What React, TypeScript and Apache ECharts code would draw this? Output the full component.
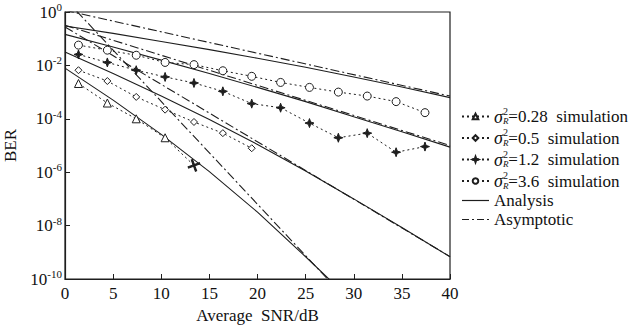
import React, { useEffect, useRef } from "react";
import * as echarts from "echarts";

const FONT = "Liberation Serif";

// SNR positions of simulation points (dB)
const xSim = [1.4, 4.4, 7.4, 10.4, 13.4, 16.4, 19.4, 22.4, 25.4, 28.4, 31.4, 34.4, 37.4];
// simulation BER
const sim028 = [2.1e-3, 3.9e-4, 1.0e-4, 1.95e-5, 1.8e-6];
const sim05 = [6.6e-3, 2.6e-3, 6.6e-4, 2.2e-4, 7.6e-5, 2.9e-5, 7.9e-6];
const sim12 = [2.57e-2, 1.29e-2, 6.6e-3, 3.7e-3, 2.2e-3, 1.07e-3, 3.7e-4, 2.6e-4, 6.9e-5, 1.95e-5, 2.9e-5, 5.6e-6, 9.1e-6];
const sim36 = [5.75e-2, 3.72e-2, 2.4e-2, 1.29e-2, 1.07e-2, 6.3e-3, 3.9e-3, 2.3e-3, 1.5e-3, 1.0e-3, 7.1e-4, 4.4e-4, 1.7e-4];

// analysis curves
const xAna = [0, 5, 10, 15, 20, 25, 30, 35, 40];
const ana36 = [0.30, 0.158, 0.079, 0.039, 0.0186, 8.5e-3, 3.7e-3, 1.55e-3, 6.2e-4];
const ana12 = [0.145, 0.049, 0.0158, 5.0e-3, 1.5e-3, 4.4e-4, 1.2e-4, 3.3e-5, 8.7e-6];
const ana05 = [0.032, 5.0e-3, 7.2e-4, 9.5e-5, 1.1e-5, 1.1e-6, 1.0e-7, 8.5e-9, 6.8e-10];
const ana028 = [7.9e-3, 5.0e-4, 2.6e-5, 1.05e-6, 3.2e-8, 6.8e-10, 1.3e-11];

// asymptotic lines (end points)
const xAsy = [0, 40];
const asy36 = [1.15, 7.1e-4];
const asy12 = [0.32, 1.0e-5];
const asy05 = [0.275, 6.9e-10];
const xAsyD = [0, 30];
const asy028 = [3.16, 8.9e-12];

// axis ticks
const xTicks = { min: 0, max: 40, interval: 5 };
const yTicks = { min: 1e-10, max: 1 };

const legendNames = ["s028", "s05", "s12", "s36", "Analysis", "Asymptotic"];
const legendValues: Record<string, string> = { s028: "0.28", s05: "0.5", s12: "1.2", s36: "3.6" };

const zip = (xs: number[], ys: number[]) => ys.map((y, i) => [xs[i], y]);

const INK = "#1e1e1e";
const STAR = "path://M0,-5 L1.3,-1.3 L5,0 L1.3,1.3 L0,5 L-1.3,1.3 L-5,0 L-1.3,-1.3 Z";
const PLUS = "path://M-0.7,-6 L0.7,-6 L0.7,-0.7 L6,-0.7 L6,0.7 L0.7,0.7 L0.7,6 L-0.7,6 L-0.7,0.7 L-6,0.7 L-6,-0.7 L-0.7,-0.7 Z";
const ICON_SOLID = "path://M0,0 H27 V1.2 H0 Z";
const ICON_DASHDOT = "path://M0,0 H7 V1.2 H0 Z M10,0 H12 V1.2 H10 Z M15,0 H22 V1.2 H15 Z M25,0 H27 V1.2 H25 Z";

function simSeries(name: string, xs: number[], ys: number[], symbol: string, filled: boolean, size: number) {
  const data: any[] = zip(xs, ys);
  return {
    name,
    type: "line",
    data,
    symbol,
    symbolSize: size,
    showAllSymbol: true,
    lineStyle: { color: INK, width: 1, type: [2, 3] },
    itemStyle: { color: filled ? INK : "#fff", borderColor: INK, borderWidth: 1 },
    z: 3,
  };
}

function lineSeries(name: string, xs: number[], ys: number[], dash: any) {
  return {
    name,
    type: "line",
    data: zip(xs, ys),
    symbol: "none",
    lineStyle: { color: INK, width: 1.1, type: dash },
    itemStyle: { color: INK },
    z: 2,
  };
}

export default function App() {
  const ref = useRef<HTMLDivElement>(null);
  useEffect(() => {
    const chart = echarts.init(ref.current!, null, { renderer: "svg" });
    const s028 = simSeries("s028", xSim, sim028, "triangle", false, 8);
    (s028.data as any[])[4] = { value: [xSim[4], sim028[4]], symbol: PLUS, symbolSize: 12, symbolRotate: 20, itemStyle: { color: INK } };
    const option: any = {
      animation: false,
      backgroundColor: "#fff",
      textStyle: { fontFamily: FONT },
      grid: {
        left: 65,
        right: 182,
        top: 12,
        bottom: 47,
        show: true,
        borderColor: INK,
        borderWidth: 1.2,
        containLabel: false,
        outerBoundsMode: "none",
      },
      legend: {
        data: legendNames.map((n) =>
          n === "Analysis" ? { name: n, icon: ICON_SOLID } : n === "Asymptotic" ? { name: n, icon: ICON_DASHDOT } : { name: n }
        ),
        orient: "vertical",
        left: 456,
        top: 101,
        itemWidth: 27,
        itemHeight: 7,
        itemGap: 2,
        selectedMode: false,
        textStyle: {
          fontFamily: FONT,
          fontSize: 17,
          color: "#111",
          rich: {
            sig: { fontFamily: FONT, fontSize: 18, fontStyle: "italic", color: "#111" },
            sup: { fontFamily: FONT, fontSize: 10, color: "#111", width: 0, padding: [0, 0, 11, 0] },
            sub: { fontFamily: FONT, fontSize: 9, fontStyle: "italic", color: "#111", padding: [9, 0, 0, 0] },
            t: { fontFamily: FONT, fontSize: 17, color: "#111" },
          },
        },
        formatter: (n: string) =>
          legendValues[n] ? `{sig|σ}{sup|2}{sub|R}{t|=${legendValues[n]}  simulation}` : `{t|${n}}`,
      },
      xAxis: {
        type: "value",
        ...xTicks,
        name: "Average  SNR/dB",
        nameLocation: "middle",
        nameGap: 28,
        nameTextStyle: { fontFamily: FONT, fontSize: 17, color: "#111" },
        axisLine: { lineStyle: { color: INK, width: 1.2 } },
        axisTick: { inside: true, length: 5, lineStyle: { color: INK } },
        axisLabel: { fontFamily: FONT, fontSize: 17, color: "#111", margin: 6 },
        splitLine: { show: false },
      },
      yAxis: {
        type: "log",
        logBase: 10,
        ...yTicks,
        interval: 2,
        name: "BER",
        nameLocation: "middle",
        nameGap: 41,
        nameRotate: 90,
        nameTextStyle: { fontFamily: FONT, fontSize: 17, color: "#111" },
        axisLine: { lineStyle: { color: INK, width: 1.2 } },
        axisTick: { inside: true, length: 5, lineStyle: { color: INK } },
        splitLine: { show: false },
        axisLabel: {
          margin: 3,
          formatter: (v: number) => `{b|10}{e|${Math.round(Math.log10(v))}}`,
          rich: {
            b: { fontFamily: FONT, fontSize: 17, color: "#111" },
            e: { fontFamily: FONT, fontSize: 11, color: "#111", padding: [0, 0, 10, 0] },
          },
        },
      },
      series: [
        s028,
        simSeries("s05", xSim, sim05, "diamond", false, 7),
        simSeries("s12", xSim, sim12, STAR, true, 9),
        simSeries("s36", xSim, sim36, "circle", false, 8),
        lineSeries("Analysis", xAna, ana36, "solid"),
        lineSeries("Analysis", xAna, ana12, "solid"),
        lineSeries("Analysis", xAna, ana05, "solid"),
        lineSeries("Analysis", xAna, ana028, "solid"),
        lineSeries("Asymptotic", xAsy, asy36, [9, 3, 2, 3]),
        lineSeries("Asymptotic", xAsy, asy12, [9, 3, 2, 3]),
        lineSeries("Asymptotic", xAsy, asy05, [9, 3, 2, 3]),
        lineSeries("Asymptotic", xAsyD, asy028, [9, 3, 2, 3]),
      ],
    };
    chart.setOption(option);
    return () => chart.dispose();
  }, []);
  return (
    <div
      ref={ref}
      style={{ position: "fixed", left: 0, top: 0, width: 632, height: 326, background: "#fff" }}
    />
  );
}
